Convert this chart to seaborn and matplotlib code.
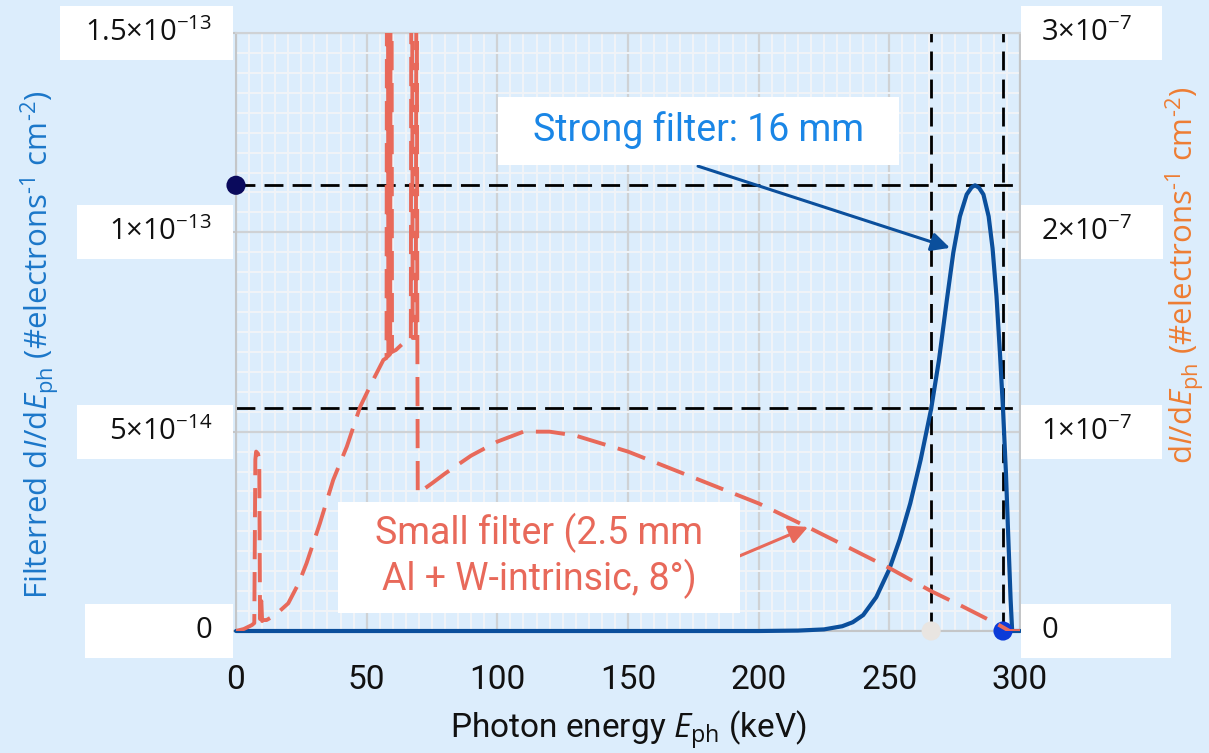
import matplotlib
matplotlib.use("Agg")
import matplotlib.pyplot as plt
from matplotlib.patches import Rectangle
from matplotlib.ticker import MultipleLocator
import seaborn as sns

# ---------------- data ----------------
# Strong filter (16 mm): filtered spectrum, left axis
strong_energy = [0, 200, 215, 225, 232, 236, 240, 245, 250, 254, 258, 262,
                 266, 269, 272, 274.5, 277, 279.6, 281.5, 282.8, 284.3, 286, 288, 289.5,
                 291, 292.3, 293.5, 294.6, 295.6, 296.4, 297.0, 300]
strong_value = [0, 0, 0.001e-13, 0.004e-13, 0.012e-13, 0.022e-13, 0.04e-13, 0.085e-13,
                0.155e-13, 0.23e-13, 0.32e-13, 0.43e-13,
                0.557e-13, 0.68e-13, 0.83e-13, 0.95e-13, 1.04e-13, 1.095e-13, 1.113e-13,
                1.118e-13, 1.112e-13, 1.095e-13, 1.04e-13, 0.96e-13,
                0.84e-13, 0.70e-13, 0.557e-13, 0.40e-13, 0.22e-13, 0.08e-13, 0, 0]

# Small filter (2.5 mm Al + W-intrinsic, 8 deg): spectrum, right axis
small_energy = [0, 3, 6.1, 7.0, 7.4, 7.7, 8.4, 8.9, 9.2, 9.4, 9.7, 10.0, 10.5, 11.7, 15,
                20, 24, 27, 32.1, 37.2, 42.4, 47.5, 52.5, 56.4,
                57.6, 57.98, 58.3, 59.0, 59.32, 59.7, 61.2, 65.3,
                66.9, 67.24, 67.6, 68.8, 69.1, 69.4, 69.55,
                75, 80, 90, 100, 110, 120, 130, 150, 175, 200, 219, 235, 250, 266,
                277, 292, 296, 300]
small_value = [0, 0.01e-7, 0.03e-7, 0.04e-7, 0.86e-7, 0.9e-7, 0.89e-7, 0.86e-7, 0.06e-7,
               0.06e-7, 0.15e-7, 0.05e-7, 0.055e-7, 0.055e-7, 0.08e-7,
               0.139e-7, 0.24e-7, 0.34e-7, 0.54e-7, 0.758e-7, 0.925e-7, 1.125e-7, 1.26e-7, 1.36e-7,
               1.37e-7, 6e-7, 1.38e-7, 1.39e-7, 6e-7, 1.40e-7, 1.41e-7, 1.46e-7,
               1.46e-7, 5e-7, 1.47e-7, 1.47e-7, 4e-7, 1.47e-7, 0.69e-7,
               0.741e-7, 0.79e-7, 0.88e-7, 0.95e-7, 1.0e-7, 1.0e-7, 0.98e-7, 0.90e-7, 0.77e-7,
               0.64e-7, 0.52e-7, 0.415e-7, 0.316e-7, 0.2e-7,
               0.13e-7, 0.03e-7, 0, 0]

# Peak and full width at half maximum of the strong-filter spectrum
peak_energy = 282.8
peak_value = 1.118e-13
half_value = peak_value / 2
fwhm_low = 266.0
fwhm_high = 293.5

x_ticks = [0, 50, 100, 150, 200, 250, 300]
left_ticks = [0, 5e-14, 1e-13, 1.5e-13]
left_tick_labels = ["$0$", r"$5{\times}10^{-14}$", r"$1{\times}10^{-13}$", r"$1.5{\times}10^{-13}$"]
right_ticks = [0, 1e-7, 2e-7, 3e-7]
right_tick_labels = ["$0$", r"$1{\times}10^{-7}$", r"$2{\times}10^{-7}$", r"$3{\times}10^{-7}$"]

# ---------------- style ----------------
W, H = 1209, 753
BG = "#dcedfc"
BLUE = "#0b4f9c"
SALMON = "#e8695a"
sns.set_theme(style="white")
plt.rcParams["font.family"] = ["Open Sans", "DejaVu Sans"]
plt.rcParams["mathtext.fontset"] = "custom"
plt.rcParams["mathtext.rm"] = "Open Sans"
plt.rcParams["mathtext.it"] = "Open Sans:italic"
plt.rcParams["mathtext.bf"] = "Open Sans:bold"

fig = plt.figure(figsize=(W / 100, H / 100), dpi=100, facecolor=BG)


def fx(px):
    return px / W


def fy(py):
    return 1 - py / H


ax = fig.add_axes([fx(236), fy(631), fx(1020) - fx(236), fy(33) - fy(631)])
ax.set_facecolor(BG)
ax2 = ax.twinx()

ax.set_xlim(0, 300)
ax.set_ylim(0, 1.5e-13)
ax2.set_ylim(0, 3e-7)

# grid
ax.set_xticks(x_ticks)
ax.set_yticks(left_ticks)
ax.xaxis.set_minor_locator(MultipleLocator(5))
ax.yaxis.set_minor_locator(MultipleLocator(5e-15))
ax.grid(which="minor", color="#f1f4f7", lw=1.4, zorder=0)
ax.grid(which="major", color="#cfd2d5", lw=1.6, zorder=0.5)
ax.set_axisbelow(True)
for s in ["left", "bottom", "right", "top"]:
    ax.spines[s].set_color("#c4c6c8")
    ax.spines[s].set_linewidth(1.5)
    ax2.spines[s].set_visible(False)
ax.spines["top"].set_color("#cfd2d5")

ax.tick_params(axis="x", which="major", length=9, width=1.5, color="#c4c6c8",
               labelsize=24, pad=15, labelcolor="#111111")
ax.tick_params(axis="y", which="major", length=6, width=1.5, color="#c4c6c8",
               labelleft=False)
ax.tick_params(which="minor", length=0)
ax2.tick_params(axis="y", length=0, labelright=False)
ax2.set_yticks(right_ticks)
ax2.grid(False)
for lab in ax.get_xticklabels():
    lab.set_fontfamily(["Roboto", "DejaVu Sans"])

# reference guides: peak level, half maximum and FWHM edges
dash_black = (0, (6.8, 3.3))
ax.axhline(peak_value, color="black", lw=2, ls=dash_black, zorder=2)
ax.axhline(half_value, color="black", lw=2, ls=dash_black, zorder=2)
ax.axvline(fwhm_low, color="black", lw=2, ls=dash_black, zorder=2)
ax.axvline(fwhm_high, color="black", lw=2, ls=dash_black, zorder=2)

# spectra
sns.lineplot(x=strong_energy, y=strong_value, ax=ax, color=BLUE, linewidth=3.0,
             estimator=None, sort=False, zorder=3, clip_on=False)
sns.lineplot(x=small_energy, y=small_value, ax=ax2, color=SALMON, linewidth=2.8,
             estimator=None, sort=False, linestyle=(0, (7.5, 3.3)), zorder=3)

# markers on the axes
sns.scatterplot(x=[0], y=[peak_value], ax=ax, color="#0a0a5c", s=190,
                edgecolor="none", zorder=5, clip_on=False)
sns.scatterplot(x=[fwhm_low], y=[0], ax=ax, color="#e9e5e1", s=190,
                edgecolor="none", zorder=5, clip_on=False)
sns.scatterplot(x=[fwhm_high], y=[0], ax=ax, color="#0b3bd8", s=190,
                edgecolor="none", zorder=5, clip_on=False)

ax.set_xlabel("")
ax.set_ylabel("")
ax2.set_ylabel("")

# tick labels on white boxes
to_fig = fig.transFigure.inverted()


def y_fig(axis, v):
    return to_fig.transform(axis.transData.transform((0, v)))[1]


left_box_x0 = [85, 77, 77, 60]
for v, txt, x0 in zip(left_ticks, left_tick_labels, left_box_x0):
    yc = y_fig(ax, v)
    fig.patches.append(Rectangle((fx(x0), yc - 27 / H), fx(233) - fx(x0), 54 / H,
                                 transform=fig.transFigure, facecolor="white",
                                 edgecolor="none", zorder=1))
    fig.text(fx(212), yc, txt, ha="right", va="center", fontsize=21,
             color="#111111", zorder=3)

right_box_x1 = [1171, 1162, 1163, 1162]
for v, txt, x1 in zip(right_ticks, right_tick_labels, right_box_x1):
    yc = y_fig(ax2, v)
    fig.patches.append(Rectangle((fx(1021), yc - 27 / H), fx(x1) - fx(1021), 54 / H,
                                 transform=fig.transFigure, facecolor="white",
                                 edgecolor="none", zorder=1))
    fig.text(fx(1041), yc, txt, ha="left", va="center", fontsize=21,
             color="#111111", zorder=3)

# axis titles
fig.text(fx(628), fy(730), r"Photon energy $\mathit{E}_{\rm ph}$ (keV)", ha="center",
         va="center", fontsize=24, color="#111111",
         family=["Roboto", "DejaVu Sans"])
fig.text(fx(40), fy(345),
         r"Filterred d$\mathit{I}$/d$\mathit{E}_{\rm ph}$ (#electrons$^{\text{-1}}$ cm$^{\text{-2}}$)",
         rotation=90, ha="center", va="center", fontsize=22.5, color="#1b77c9")
fig.text(fx(1185), fy(275),
         r"d$\mathit{I}$/d$\mathit{E}_{\rm ph}$ (#electrons$^{\text{-1}}$ cm$^{\text{-2}}$)",
         rotation=90, ha="center", va="center", fontsize=22.5, color="#ee7d33")

# annotation boxes
fig.patches.append(Rectangle((fx(498), fy(165)), fx(899) - fx(498), fy(97) - fy(165),
                             transform=fig.transFigure, facecolor="white",
                             edgecolor="none", zorder=1))
fig.text(fx(698.5), fy(130), "Strong filter: 16 mm", ha="center", va="center",
         fontsize=27, color="#1a86e6", family=["Roboto", "DejaVu Sans"], zorder=3)
fig.patches.append(Rectangle((fx(338), fy(613)), fx(740) - fx(338), fy(502) - fy(613),
                             transform=fig.transFigure, facecolor="white",
                             edgecolor="none", zorder=1))
fig.text(fx(539), fy(556), "Small filter (2.5 mm\nAl + W-intrinsic, 8°)", ha="center",
         va="center", fontsize=27, color=SALMON, linespacing=1.2,
         family=["Roboto", "DejaVu Sans"], zorder=3)

ax2.annotate("", xy=(273.2, 0.961e-13), xycoords=ax.transData,
             xytext=(176.8, 1.166e-13), textcoords=ax.transData,
             arrowprops=dict(arrowstyle="-|>", color=BLUE, lw=2.2, mutation_scale=28,
                             shrinkA=0, shrinkB=0), zorder=6)
ax2.annotate("", xy=(218.9, 0.522e-7), xycoords=ax2.transData,
             xytext=(191.7, 0.371e-7), textcoords=ax2.transData,
             arrowprops=dict(arrowstyle="-|>", color=SALMON, lw=2.2, mutation_scale=28,
                             shrinkA=0, shrinkB=0), zorder=6)

fig.savefig("out.png", dpi=100, facecolor=BG)
